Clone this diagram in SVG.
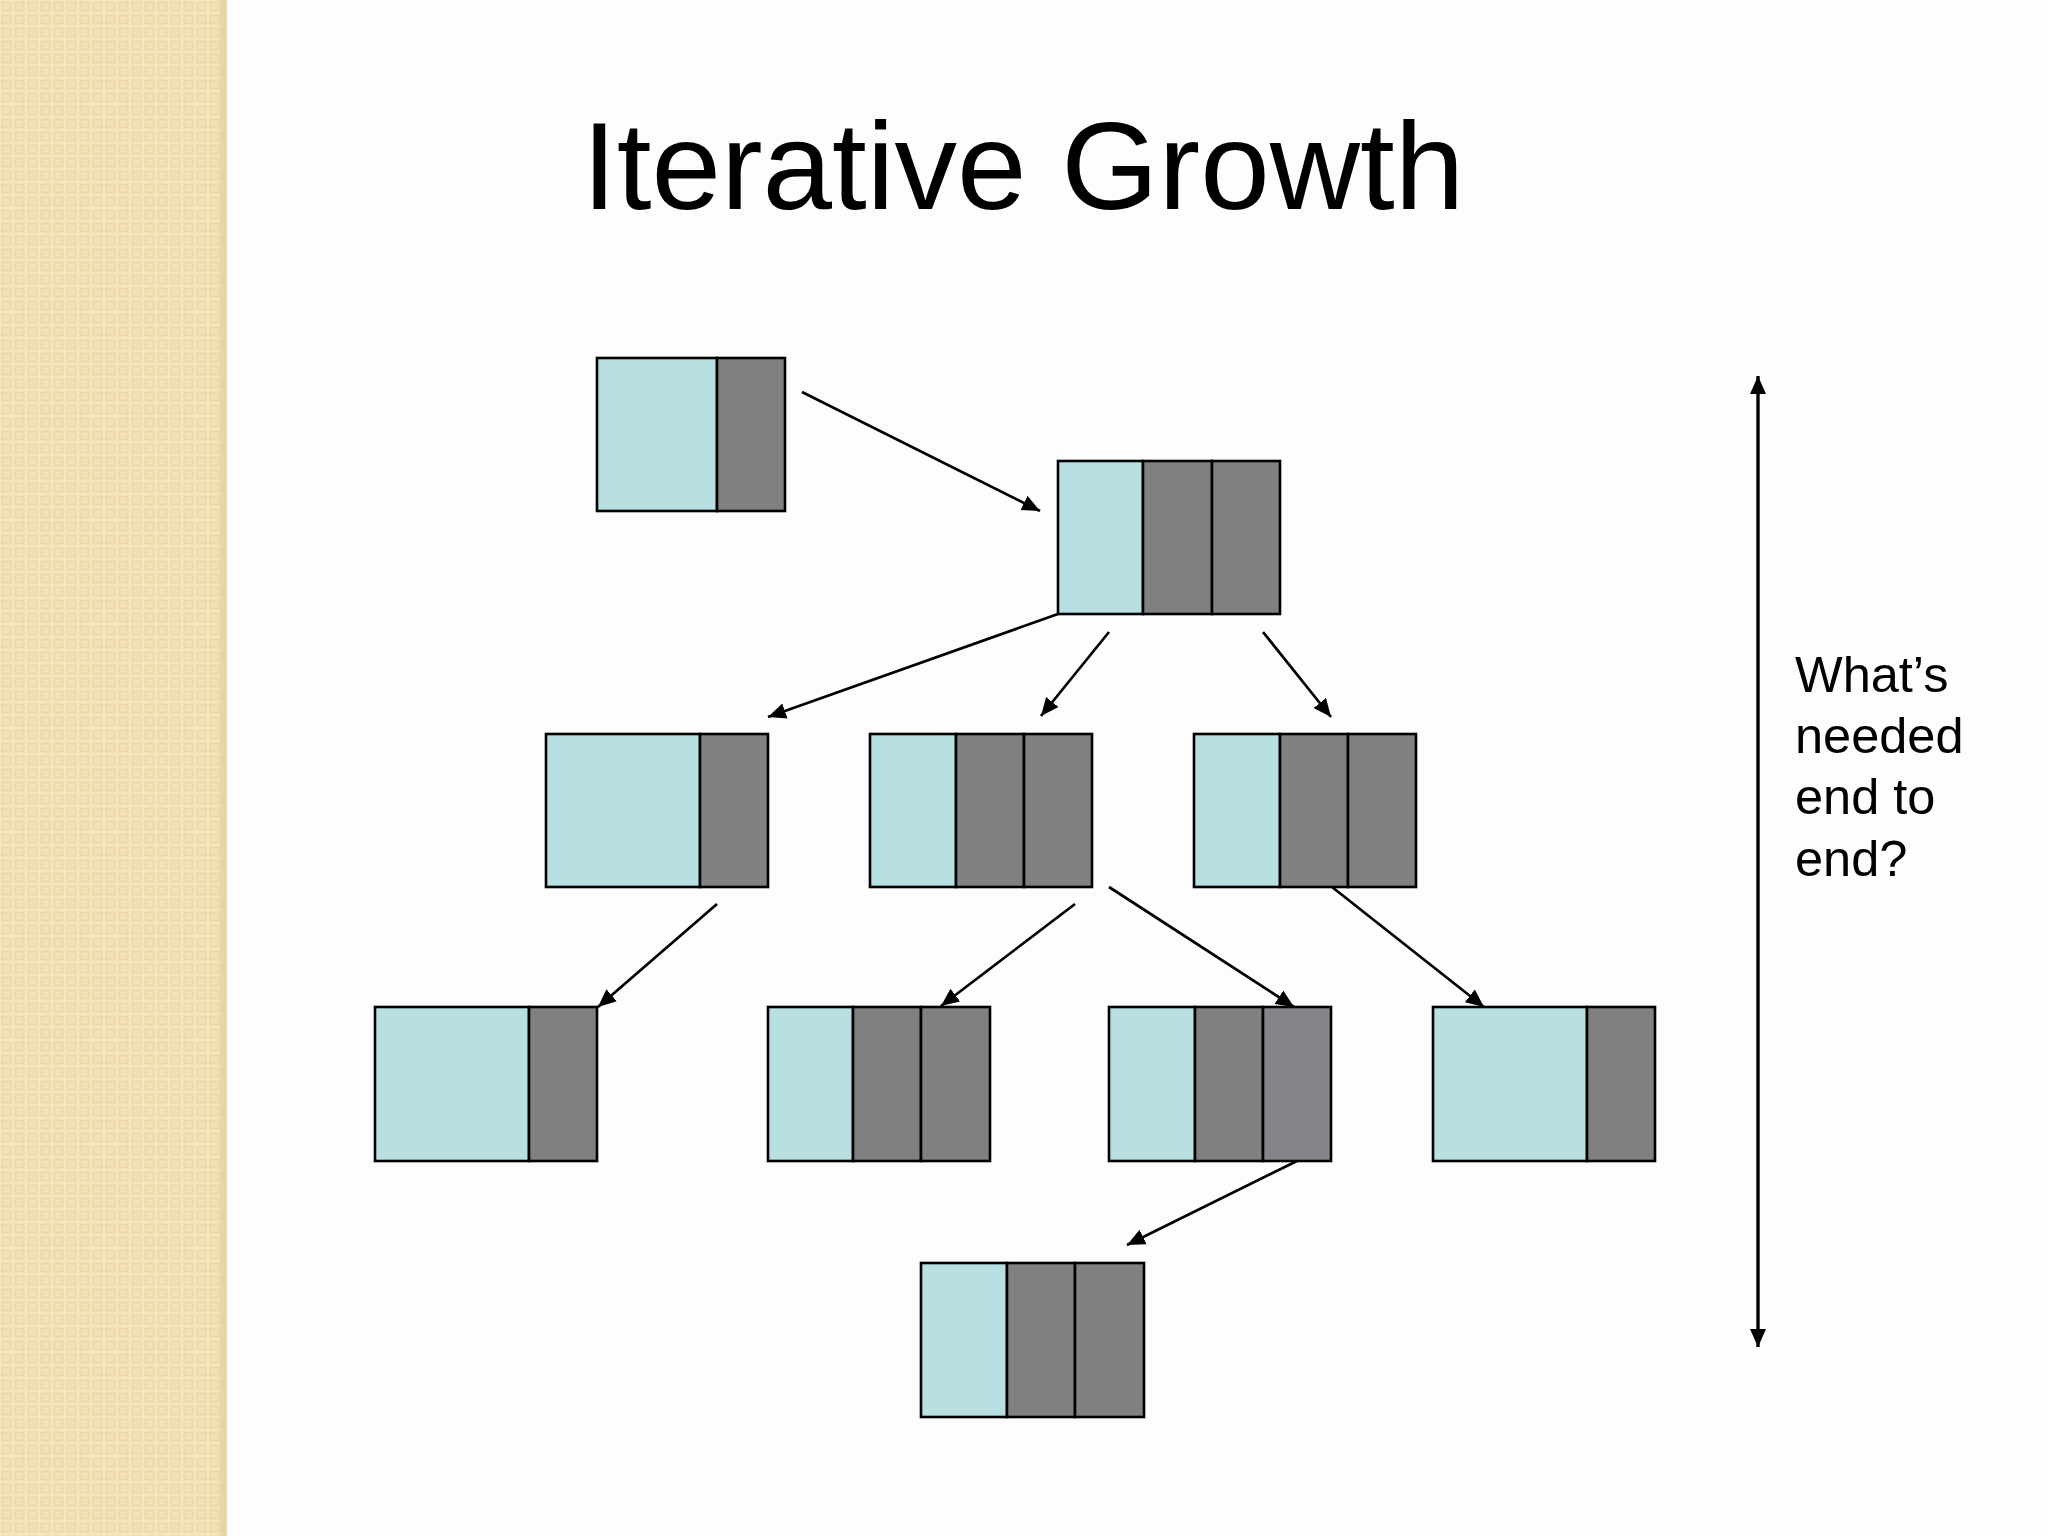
<svg xmlns="http://www.w3.org/2000/svg" width="2048" height="1536" viewBox="0 0 2048 1536">
<defs>
<style>
.lt{fill:#b8e0e3;stroke:#000;stroke-width:2.6}
.dk{fill:#808080;stroke:#000;stroke-width:2.6}
.con{stroke:#000;stroke-width:2.7;fill:none;marker-end:url(#ah)}
.t{font-family:"Liberation Sans",Arial,sans-serif;fill:#000}
</style>
<marker id="ah" markerUnits="userSpaceOnUse" markerWidth="20" markerHeight="18" refX="18" refY="8" orient="auto-start-reverse" viewBox="0 0 20 16">
<path d="M0,0 L18,8 L0,16 Z" fill="#000"/>
</marker>
<pattern id="bg" patternUnits="userSpaceOnUse" width="13" height="13">
<rect width="13" height="13" fill="#f5e4bc"/>
<rect x="2.5" y="2.5" width="8" height="8" fill="none" stroke="#ecd8a8" stroke-width="2"/>
<rect x="5.5" y="5.5" width="2" height="2" fill="#ecd8a8"/>
</pattern>
</defs>
<rect width="2048" height="1536" fill="#fdfdfd"/>
<rect x="0" y="0" width="227" height="1536" fill="url(#bg)"/>
<rect x="220" y="0" width="7" height="1536" fill="#e8d6a6"/>

<text class="t" x="582" y="209" font-size="125">Iterative Growth</text>

<g id="connectors">
<line class="con" x1="802" y1="392" x2="1040" y2="511"/>
<line class="con" x1="1058" y1="614" x2="768" y2="717"/>
<line class="con" x1="1109" y1="632" x2="1041" y2="716"/>
<line class="con" x1="1263" y1="632" x2="1331" y2="717"/>
<line class="con" x1="717" y1="904" x2="598" y2="1007"/>
<line class="con" x1="1075" y1="904" x2="941" y2="1006"/>
<line class="con" x1="1109" y1="887" x2="1294" y2="1007"/>
<line class="con" x1="1332" y1="887" x2="1484" y2="1007"/>
<line class="con" x1="1297" y1="1161" x2="1127" y2="1245"/>
<line x1="1758" y1="376" x2="1758" y2="1347" stroke="#000" stroke-width="3.4" marker-start="url(#ah)" marker-end="url(#ah)"/>
</g>

<g id="n1">
<rect class="lt" x="597" y="358" width="120" height="153"/>
<rect class="dk" x="717" y="358" width="68" height="153"/>
</g>
<g id="n2">
<rect class="lt" x="1058" y="461" width="85" height="153"/>
<rect class="dk" x="1143" y="461" width="69" height="153"/>
<rect class="dk" x="1212" y="461" width="68" height="153"/>
</g>
<g id="n3">
<rect class="lt" x="546" y="734" width="154" height="153"/>
<rect class="dk" x="700" y="734" width="68" height="153"/>
</g>
<g id="n4">
<rect class="lt" x="870" y="734" width="86" height="153"/>
<rect class="dk" x="956" y="734" width="68" height="153"/>
<rect class="dk" x="1024" y="734" width="68" height="153"/>
</g>
<g id="n5">
<rect class="lt" x="1194" y="734" width="86" height="153"/>
<rect class="dk" x="1280" y="734" width="68" height="153"/>
<rect class="dk" x="1348" y="734" width="68" height="153"/>
</g>
<g id="n6">
<rect class="lt" x="375" y="1007" width="154" height="154"/>
<rect class="dk" x="529" y="1007" width="68" height="154" style="fill:#7f817f"/>
</g>
<g id="n7">
<rect class="lt" x="768" y="1007" width="85" height="154"/>
<rect class="dk" x="853" y="1007" width="68" height="154"/>
<rect class="dk" x="921" y="1007" width="69" height="154"/>
</g>
<g id="n8">
<rect class="lt" x="1109" y="1007" width="86" height="154"/>
<rect class="dk" x="1195" y="1007" width="68" height="154"/>
<rect class="dk" x="1263" y="1007" width="68" height="154" style="fill:#858488"/>
</g>
<g id="n9">
<rect class="lt" x="1433" y="1007" width="154" height="154"/>
<rect class="dk" x="1587" y="1007" width="68" height="154"/>
</g>
<g id="n10">
<rect class="lt" x="921" y="1263" width="86" height="154"/>
<rect class="dk" x="1007" y="1263" width="68" height="154"/>
<rect class="dk" x="1075" y="1263" width="69" height="154"/>
</g>

<g id="label">
<text class="t" font-size="50.5">
<tspan x="1795" y="692">What’s</tspan>
<tspan x="1795" y="753">needed</tspan>
<tspan x="1795" y="814">end to</tspan>
<tspan x="1795" y="876">end?</tspan>
</text>
</g>
</svg>
